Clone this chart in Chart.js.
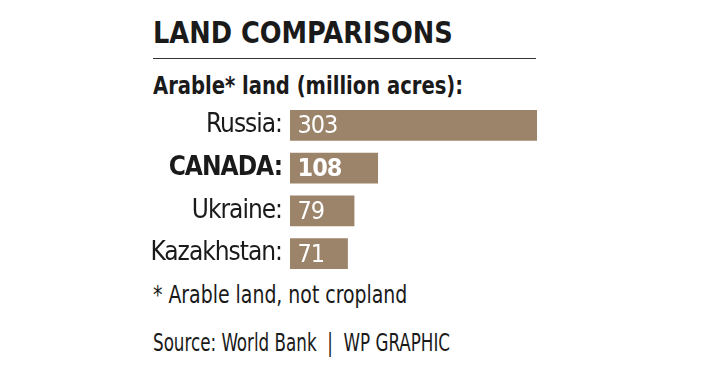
<!DOCTYPE html>
<html lang="en">
<head>
<meta charset="UTF-8">
<title>Land Comparisons</title>
<script src="https://cdn.jsdelivr.net/npm/chart.js@4.4.1/dist/chart.umd.min.js"></script>
<style>
  html, body { margin: 0; padding: 0; background: #fff; }
  body { width: 707px; height: 373px; position: relative; overflow: hidden;
         font-family: "DejaVu Sans Condensed", "Liberation Sans", sans-serif; color: #1a1a1a; }
  .txt { position: absolute; left: 153px; white-space: nowrap; line-height: 1; transform-origin: 0 0; }
  #title { top: 16.5px; font-size: 31px; font-weight: bold; transform: scaleX(0.92); }
  #rule { position: absolute; left: 153px; top: 58px; width: 383px; height: 0; border-top: 1.5px solid #333; }
  #sub { top: 73px; font-size: 25px; font-weight: bold; transform: scaleX(0.87); }
  #note { top: 282px; font-size: 25px; transform: scaleX(0.84); }
  #source { top: 330.5px; font-size: 24px; transform: scaleX(0.775); }
  #chart { position: absolute; left: 0; top: 104px; }
</style>
</head>
<body>
<div id="title" class="txt">LAND COMPARISONS</div>
<div id="rule"></div>
<div id="sub" class="txt">Arable* land (million acres):</div>
<canvas id="chart" width="537" height="171"></canvas>
<div id="note" class="txt">* Arable land, not cropland</div>
<div id="source" class="txt">Source: World Bank &nbsp;|&nbsp; WP GRAPHIC</div>

<script>
const countries = ['Russia:', 'CANADA:', 'Ukraine:', 'Kazakhstan:'];
const acres = [303, 108, 79, 71];
const highlight = 'CANADA:';

const FONT = '"DejaVu Sans Condensed", "Liberation Sans", sans-serif';

// tighter text so the labels look closer to the narrow original face
const narrowText = {
  id: 'narrowText',
  beforeDraw(chart) { chart.ctx.letterSpacing = '-1px'; }
};

// white value labels inside each bar
const barLabels = {
  id: 'barLabels',
  afterDatasetsDraw(chart) {
    const ctx = chart.ctx;
    const meta = chart.getDatasetMeta(0);
    ctx.save();
    ctx.fillStyle = '#fff';
    ctx.textBaseline = 'alphabetic';
    ctx.textAlign = 'left';
    meta.data.forEach((bar, i) => {
      const bold = countries[i] === highlight;
      ctx.font = (bold ? 'bold ' : '') + '25px ' + FONT;
      ctx.fillText(String(acres[i]), bar.base + 7.5, bar.y + 8);
    });
    ctx.restore();
  }
};

new Chart(document.getElementById('chart'), {
  type: 'bar',
  data: {
    labels: countries,
    datasets: [{
      data: acres,
      backgroundColor: '#9c846a',
      borderWidth: 0,
      categoryPercentage: 1,
      barPercentage: 0.715
    }]
  },
  options: {
    indexAxis: 'y',
    responsive: false,
    animation: false,
    layout: { padding: 0 },
    plugins: { legend: { display: false }, tooltip: { enabled: false } },
    scales: {
      x: { display: false, min: 0, max: 303 },
      y: {
        grid: { display: false, drawTicks: false },
        border: { display: false },
        afterFit(scale) {
          scale.width = 290;
          scale.paddingTop = 0;
          scale.paddingBottom = 0;
        },
        ticks: {
          padding: 8,
          color: '#1a1a1a',
          font: (c) => ({
            family: FONT,
            size: 26,
            weight: countries[c.index] === highlight ? 'bold' : 'normal'
          })
        }
      }
    }
  },
  plugins: [narrowText, barLabels]
});
</script>
</body>
</html>
